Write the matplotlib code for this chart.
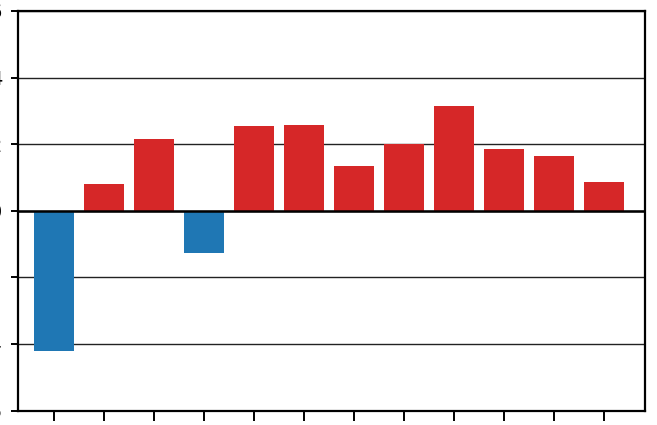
import matplotlib

matplotlib.use("Agg")
import matplotlib.pyplot as plt
import numpy as np

# Bar values (12 periods).
values = [-4.22, 0.80, 2.17, -1.27, 2.55, 2.57, 1.34, 1.99, 3.14, 1.85, 1.63, 0.85]
y_ticks = [-6, -4, -2, 0, 2, 4, 6]

C_POS = "#d62728"  # red for positive bars
C_NEG = "#1f77b4"  # blue for negative bars

W, H = 657, 425
fig = plt.figure(figsize=(W / 100, H / 100), dpi=100)
# The reference is a crop: axes sit so the y tick labels fall off the left edge.
left, right, top, bottom = 17.5, 644.5, 11.0, 410.5
ax = fig.add_axes([left / W, (H - bottom) / H, (right - left) / W, (bottom - top) / H])

x = np.arange(len(values))
colors = [C_POS if v >= 0 else C_NEG for v in values]
ax.bar(x, values, width=0.8, color=colors, zorder=3)
ax.axhline(0, color="black", lw=1.8, zorder=4)

ax.set_xlim(-0.72, 11.8)
ax.set_ylim(-6, 6)
ax.set_yticks(y_ticks)
ax.set_xticks(x)
ax.set_xticklabels([])
ax.yaxis.grid(True, color="#222222", lw=1.0, zorder=0)
ax.set_axisbelow(True)

for s in ax.spines.values():
    s.set_linewidth(1.6)
ax.tick_params(axis="x", length=7, width=1.4)
ax.tick_params(axis="y", length=5, width=1.4, labelsize=14, pad=6)

fig.savefig("out.png", dpi=100)
